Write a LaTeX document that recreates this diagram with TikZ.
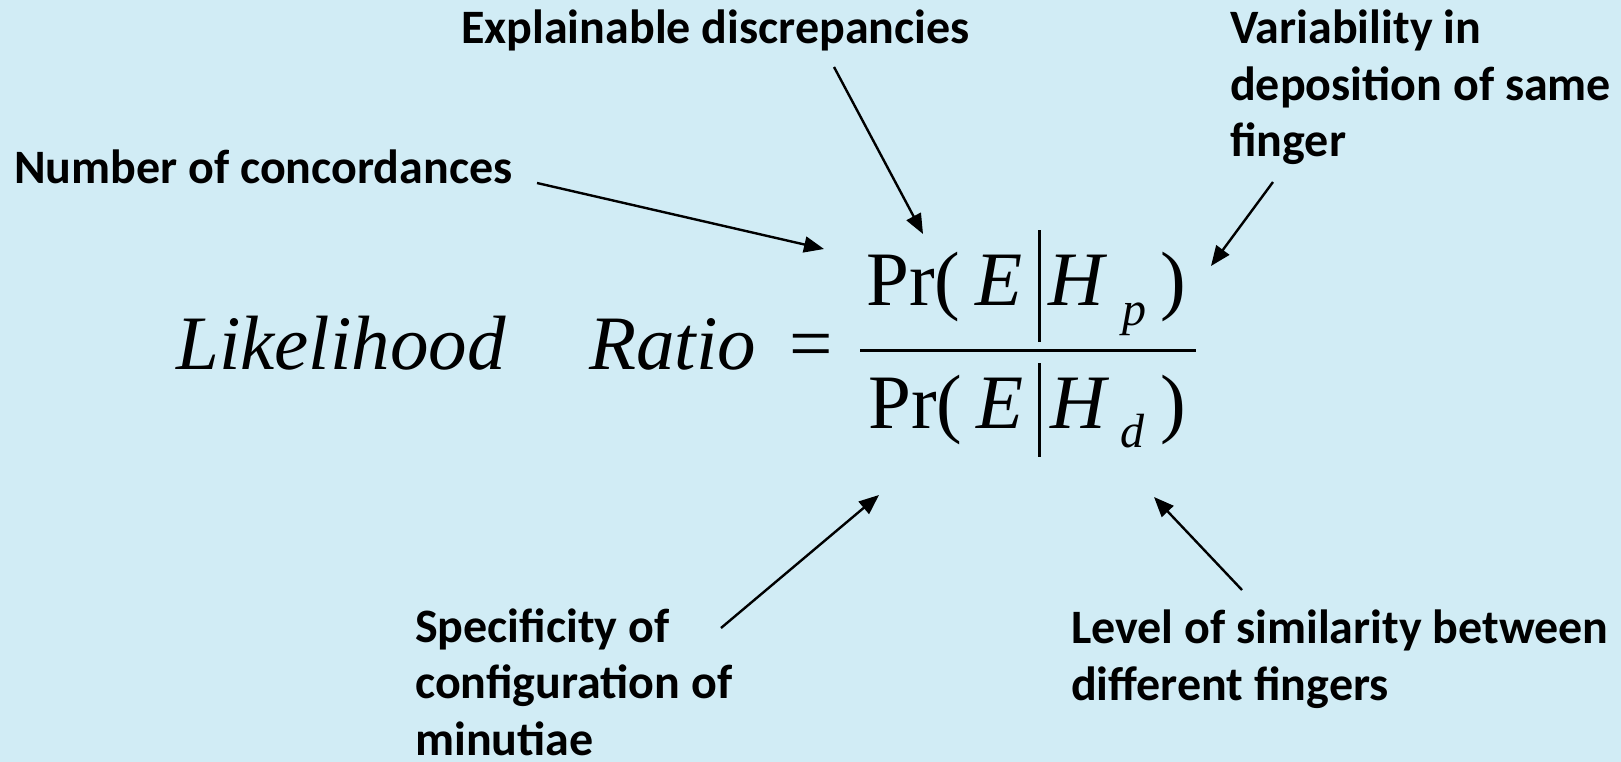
\documentclass[tikz,border=0pt]{standalone}
\usepackage{fontspec}
\setmainfont{Liberation Serif}
\newfontfamily\lblfont{Carlito}
\usetikzlibrary{arrows.meta}
\definecolor{bgblue}{RGB}{209,236,245}
\tikzset{
  lbl/.style={anchor=base west, inner sep=0pt, align=left, font=\lblfont\bfseries\fontsize{48}{56.5}\selectfont},
  mth/.style={anchor=base west, inner sep=0pt, font=\fontsize{77}{90}\selectfont},
  sub/.style={anchor=base west, inner sep=0pt, font=\fontsize{48}{58}\selectfont\itshape},
  pointer/.style={line width=2.4pt, -{Triangle[length=20pt,width=16pt]}},
  rule/.style={line width=3pt}
}
\begin{document}
\begin{tikzpicture}[x=1pt,y=-1pt]
\fill[bgblue] (0,0) rectangle (1621,762);
\useasboundingbox (0,0) rectangle (1621,762);
% labels (base anchor = baseline of last line)
\node[lbl] (expl) at (461,44) {Explainable discrepancies};
\node[lbl] (vari) at (1230,157) {Variability in\\deposition of same\\finger};
\node[lbl] (numb) at (14,184) {Number of concordances};
\node[lbl] (spec) at (415,755) {Specificity of\\configuration of\\minutiae};
\node[lbl] (levl) at (1071,700) {Level of similarity between\\different fingers};
% left side
\node[mth] (lik) at (176,369) {\itshape Likelihood};
\node[mth] (rat) at (589,369) {\itshape Ratio};
\node[mth, anchor=base] (eq) at (811,369) {=};
% numerator
\node[mth] (npr) at (866,305) {Pr(};
\node[mth] (ne) at (975,305) {\itshape E};
\node[mth] (nh) at (1048,305) {\itshape H};
\node[sub] (np) at (1122,325) {p};
\node[mth] (nc) at (1160,305) {)};
\coordinate (nbt) at (1039,230);
\coordinate (nbb) at (1039,342);
\draw[rule] (nbt) -- (nbb);
% fraction line
\coordinate (fl) at (860,350);
\coordinate (fr) at (1196,350);
\draw[rule] (fl) -- (fr);
% denominator
\node[mth] (dpr) at (868,428) {Pr(};
\node[mth] (de) at (976,428) {\itshape E};
\node[mth] (dh) at (1050,428) {\itshape H};
\node[sub] (dd) at (1120,447) {d};
\node[mth] (dc) at (1160,428) {)};
\coordinate (dbt) at (1039,363);
\coordinate (dbb) at (1039,457);
\draw[rule] (dbt) -- (dbb);
% arrows
\coordinate (a1s) at (537,183); \coordinate (a1e) at (824,249);
\coordinate (a2s) at (834,67);  \coordinate (a2e) at (923,234);
\coordinate (a3s) at (1273,182); \coordinate (a3e) at (1211,266);
\coordinate (a4s) at (721,628); \coordinate (a4e) at (879,495);
\coordinate (a5s) at (1242,590); \coordinate (a5e) at (1154,497);
\draw[pointer] (a1s) -- (a1e);
\draw[pointer] (a2s) -- (a2e);
\draw[pointer] (a3s) -- (a3e);
\draw[pointer] (a4s) -- (a4e);
\draw[pointer] (a5s) -- (a5e);
\end{tikzpicture}
\end{document}
